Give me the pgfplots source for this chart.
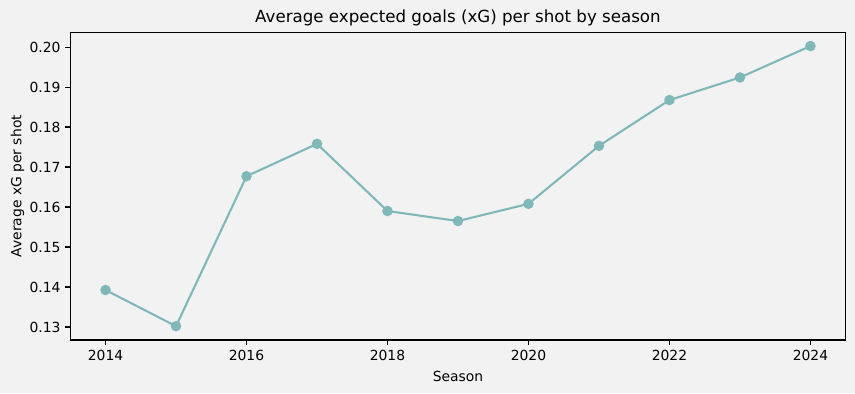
\documentclass[border=0pt]{standalone}
\usepackage{pgfplots}
\pgfplotsset{compat=1.18}
\usepackage{fontspec}
\setmainfont{DejaVu Sans}
\definecolor{bg}{HTML}{F2F2F2}
\definecolor{line}{HTML}{7FB8B8}
\begin{document}
\begin{tikzpicture}
\fill[bg] (0,0) rectangle (615.6pt,283pt);
\begin{axis}[
  at={(50.6pt,38.2pt)}, anchor=south west,
  scale only axis, width=558.3pt, height=221.5pt,
  xmin=2013.5, xmax=2024.5, ymin=0.12675, ymax=0.20368,
  xtick={2014,2016,...,2024},
  ytick={0.13,0.14,...,0.201},
  axis background/.style={fill=bg},
  axis line style={line width=0.8pt},
  tick style={black, line width=0.8pt},
  tick align=outside, major tick length=3.5pt,
  xtick pos=bottom, ytick pos=left,
  /pgf/number format/assume math mode=true,
  x tick label style={/pgf/number format/1000 sep={}, font=\fontsize{10}{12}\selectfont},
  y tick label style={/pgf/number format/fixed, /pgf/number format/fixed zerofill, /pgf/number format/precision=2, font=\fontsize{10}{12}\selectfont},
  xlabel={Season}, ylabel={Average xG per shot},
  label style={font=\fontsize{10}{12}\selectfont},
  xlabel style={yshift=-0.7pt},
  ylabel style={yshift=-3pt},
  title={Average expected goals (xG) per shot by season},
  title style={font=\fontsize{12}{14}\selectfont, yshift=-4.6pt},
]
\addplot[line, line width=1.5pt, mark=*, mark size=3pt, mark options={fill=line, draw=line}] coordinates {
(2014,0.13925) (2015,0.1302) (2016,0.1677) (2017,0.1758) (2018,0.1590) (2019,0.1565) (2020,0.1608) (2021,0.1753) (2022,0.18675) (2023,0.1924) (2024,0.20025)
};
\end{axis}
\end{tikzpicture}
\end{document}
